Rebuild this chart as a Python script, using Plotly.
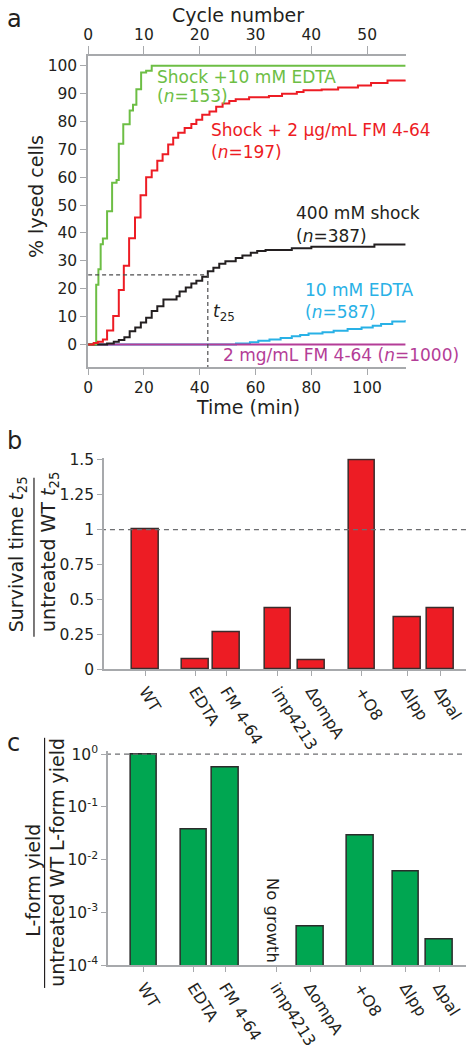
import math
import plotly.graph_objects as go

W, H = 466, 1050
def px(x):
    return x / W
def py(y):
    return 1 - y / H

FONT = "DejaVu Sans"
INK = "#231F20"
AXIS = "#A7A9AC"
GREEN = "#6DBE45"
RED = "#ED1C24"
BLACK = "#231F20"
CYAN = "#29B1E6"
MAGENTA = "#B43D97"
BAR_RED = "#ED1C24"
BAR_GREEN = "#00A651"

# ---------------- panel a data: cumulative % lysed cells vs time (min) ----------------
green_t = [0, 2.9, 3.7, 4.5, 5.3, 6.8, 8.6, 10.2, 11.0, 12.6, 14.9, 16.1, 17.3, 19.0, 20.8, 22.8, 113.8]
green_y = [0, 21.4, 27.0, 36.0, 38.0, 47.8, 58.0, 59.0, 72.0, 79.0, 84.0, 86.0, 91.6, 97.6, 98.2, 100.0, 100.0]

red_t = [0, 2.0, 3.5, 5.3, 6.8, 9.0, 11.0, 12.8, 14.7, 16.8, 18.8, 20.8, 22.8, 24.8, 26.7, 28.7,
         30.5, 32.3, 34.6, 37.0, 38.8, 40.9, 43.5, 45.9, 48.2, 50.6, 52.9, 57.7, 64.8, 69.5, 74.8,
         77.2, 83.7, 89.6, 96.7, 101.4, 107.3, 113.8]
red_y = [0, 0.5, 1.0, 1.8, 5.0, 10.2, 19.5, 28.2, 38.1, 45.6, 53.5, 60.0, 62.4, 65.9, 68.3, 71.8,
         74.2, 76.0, 77.7, 79.1, 80.6, 82.4, 83.6, 85.3, 86.5, 87.4, 88.0, 88.7, 89.2, 90.0, 90.6,
         91.2, 91.5, 92.2, 92.9, 93.8, 94.7, 95.0]

black_t = [0, 6.8, 9.2, 11.0, 13.0, 14.9, 16.9, 18.9, 20.8, 22.8, 24.8, 27.0, 31.7, 32.8, 35.0,
           37.0, 38.8, 40.9, 42.9, 44.9, 47.0, 49.2, 52.9, 55.3, 58.3, 60.6, 63.6, 73.0, 80.0,
           102.6, 113.8]
black_y = [0, 0.3, 1.0, 1.6, 2.6, 4.7, 6.1, 7.9, 9.6, 12.0, 13.7, 16.1, 17.3, 19.0, 20.4,
           21.9, 22.9, 24.3, 26.3, 27.5, 29.0, 29.9, 31.0, 31.9, 32.9, 33.5, 33.9, 34.5, 35.1,
           35.9, 35.9]

cyan_t = [0, 53, 58, 61, 65, 69, 73, 76, 79, 84, 88, 93, 98, 102, 105, 109, 113.8]
cyan_y = [0, 0.3, 0.8, 1.3, 1.8, 2.3, 2.9, 3.4, 3.9, 4.4, 4.9, 5.5, 6.1, 6.7, 7.3, 8.2, 8.8]

magenta_t = [0, 113.8]
magenta_y = [0, 0]

# ---------------- panels b / c data ----------------
categories = ["WT", "EDTA", "FM 4-64", "imp4213", "\u0394ompA", "+O8", "\u0394lpp", "\u0394pal"]
survival_ratio = [1.0, 0.072, 0.263, 0.437, 0.063, 1.495, 0.375, 0.437]
lform_yield = [1.0, 0.0376, 0.566, None, 5.3e-4, 0.029, 0.00585, 3.0e-4]

# layout: category slot positions (grouped spacing)
cat_pos = [41.7, 92.3, 124.0, 175.8, 210.0, 260.7, 306.7, 340.3]

fig = go.Figure()

# panel a curves
for t, y, c in [(cyan_t, cyan_y, CYAN), (magenta_t, magenta_y, MAGENTA),
                (black_t, black_y, BLACK), (green_t, green_y, GREEN), (red_t, red_y, RED)]:
    fig.add_trace(go.Scatter(x=t, y=y, mode="lines", xaxis="x", yaxis="y",
                             line=dict(color=c, width=2, shape="hv"),
                             showlegend=False, hoverinfo="skip"))

# t25 guide lines computed from the 400 mM shock curve
t25 = next(t for t, y in zip(black_t, black_y) if y >= 25)
ymin_a = -8.1
fig.add_trace(go.Scatter(x=[0, t25, t25], y=[25, 25, ymin_a], mode="lines", xaxis="x", yaxis="y",
                         line=dict(color="#4D4D4F", width=1.2, dash="4px,3px"),
                         showlegend=False, hoverinfo="skip"))
# dummy trace to realise top axis
fig.add_trace(go.Scatter(x=[0], y=[None], xaxis="x2", yaxis="y", showlegend=False, hoverinfo="skip"))

# panel b bars
fig.add_trace(go.Bar(x=cat_pos, y=survival_ratio, width=27, xaxis="x3", yaxis="y3",
                     marker=dict(color=BAR_RED, line=dict(color="#3A2C2C", width=1.5)),
                     showlegend=False, hoverinfo="skip"))
fig.add_trace(go.Scatter(x=[-3, 366], y=[1, 1], mode="lines", xaxis="x3", yaxis="y3",
                         line=dict(color="#6D6E71", width=1.2, dash="5px,4px"),
                         showlegend=False, hoverinfo="skip", cliponaxis=False))

# panel c bars
fig.add_trace(go.Bar(x=cat_pos, y=lform_yield, width=27, xaxis="x4", yaxis="y4",
                     marker=dict(color=BAR_GREEN, line=dict(color="#2B2B2B", width=1.5)),
                     showlegend=False, hoverinfo="skip"))
fig.add_trace(go.Scatter(x=[3.5, 367.4], y=[1, 1], mode="lines", xaxis="x4", yaxis="y4",
                         line=dict(color="#6D6E71", width=1.2, dash="5px,4px"),
                         showlegend=False, hoverinfo="skip", cliponaxis=False))

tickfont = dict(family=FONT, size=15.5, color=INK)
catfont = dict(family=FONT, size=16, color=INK)
common = dict(showline=True, linecolor=AXIS, linewidth=1.5, ticks="outside", ticklen=5,
              tickcolor=AXIS, tickwidth=1.2, showgrid=False, zeroline=False, tickfont=tickfont)
common_a = {**common, "ticklen": 6}

fig.update_layout(
    width=W, height=H, margin=dict(l=0, r=0, t=0, b=0),
    paper_bgcolor="white", plot_bgcolor="white", font=dict(family=FONT, color=INK),
    xaxis=dict(domain=[px(84), px(405)], range=[0, 113.8], anchor="y",
               tickvals=list(range(0, 101, 20)), **common_a),
    xaxis2=dict(overlaying="x", side="top", anchor="y", range=[0, 56.9],
                tickvals=list(range(0, 51, 10)), **{**common, "ticklen": 8}),
    yaxis=dict(domain=[py(367), py(50)], range=[ymin_a, 103.5], anchor="x",
               tickvals=list(range(0, 101, 10)), **common_a),
    xaxis3=dict(domain=[px(100), 1], range=[0, 366], anchor="y3", tickvals=cat_pos,
                ticktext=categories, tickangle=58,
                **{**common, "tickfont": catfont}),
    yaxis3=dict(domain=[py(675), py(460)], range=[0, 1.512], anchor="x3",
                tickvals=[0, 0.25, 0.5, 0.75, 1, 1.25, 1.5],
                ticktext=["0", "0.25", "0.5", "0.75", "1", "1.25", "1.5"], **common),
    xaxis4=dict(domain=[px(104), 1], range=[5.4, 367.4], anchor="y4", tickvals=cat_pos,
                ticktext=categories, tickangle=58,
                **{**common, "tickfont": catfont}),
    yaxis4=dict(domain=[py(976.7), py(758)], type="log", range=[-4, 0.069], anchor="x4",
                tickvals=[1e-4, 1e-3, 1e-2, 1e-1, 1],
                ticktext=["10<sup>-4</sup>", "10<sup>-3</sup>", "10<sup>-2</sup>",
                          "10<sup>-1</sup>", "10<sup>0</sup>"], **common),
    bargap=0,
)

ann = []
def A(text, x, y, color=INK, size=17, xref="x", yref="y", xanchor="left", yanchor="middle",
      angle=0, xshift=0):
    ann.append(dict(text=text, x=x, y=y, xref=xref, yref=yref, xanchor=xanchor, yanchor=yanchor,
                    showarrow=False, textangle=angle, xshift=xshift, borderpad=0,
                    font=dict(family=FONT, size=size, color=color)))

# panel a curve labels
A("Shock +10 mM EDTA", 24.4, 95.9, GREEN)
A("(<i>n</i>=153)", 24.3, 89.0, GREEN)
A("Shock + 2 \u00b5g/mL FM 4-64", 43.7, 77.1, RED)
A("(<i>n</i>=197)", 43.7, 69.0, RED)
A("400 mM shock", 74.2, 47.2, BLACK)
A("(<i>n</i>=387)", 74.2, 39.0, BLACK)
A("10 mM EDTA", 77.5, 19.5, CYAN)
A("(<i>n</i>=587)", 77.5, 11.6, CYAN)
A("2 mg/mL FM 4-64 (<i>n</i>=1000)", 48.0, -3.9, MAGENTA)
A("<i>t</i><sub>25</sub>", t25 + 1.6, 11.6, BLACK)

# axis titles (paper coords)
A("Cycle number", px(235.5), py(8), size=19, xref="paper", yref="paper", xanchor="center")
A("Time (min)", px(246), py(408), size=19, xref="paper", yref="paper", xanchor="center")
A("% lysed cells", px(32), py(193), size=19, xref="paper", yref="paper", xanchor="center", angle=-90)

A("Survival time <i>t</i><sub>25</sub>", px(13), py(558), size=19, xref="paper", yref="paper",
  xanchor="center", angle=-90)
A("untreated WT <i>t</i><sub>25</sub>", px(45), py(556), size=19, xref="paper", yref="paper",
  xanchor="center", angle=-90)
A("L-form yield", px(28), py(890), size=19, xref="paper", yref="paper", xanchor="center", angle=-90)
A("untreated WT L-form yield", px(53), py(872), size=19, xref="paper", yref="paper",
  xanchor="center", angle=-90)

A("No growth", cat_pos[3], 10 ** -3.15, size=16.5, xref="x4", yref="y4", xanchor="center",
  angle=90, xshift=-4)

# panel letters
A("a", px(1), py(12), size=24, xref="paper", yref="paper")
A("b", px(1), py(442), size=24, xref="paper", yref="paper")
A("c", px(1), py(750), size=24, xref="paper", yref="paper")

# annotation y on a log axis is given as log10
for a in ann:
    if a["yref"] == "y4":
        a["y"] = math.log10(a["y"])

fig.update_layout(annotations=ann)

shapes = [
    dict(type="line", xref="paper", yref="paper", x0=px(29.3), x1=px(29.3), y0=py(480), y1=py(642),
         line=dict(color=INK, width=1.2)),
    dict(type="line", xref="paper", yref="paper", x0=px(40), x1=px(40), y0=py(745), y1=py(1000),
         line=dict(color=INK, width=1.2)),
]
fig.update_layout(shapes=shapes)

fig.write_html("out.html", config={"displayModeBar": False})

# remove default page margins so the figure sits at the window origin
with open("out.html", "r", encoding="utf-8") as f:
    html = f.read()
html = html.replace("<head>", "<head><style>html,body{margin:0;padding:0;overflow:hidden;}</style>", 1)
with open("out.html", "w", encoding="utf-8") as f:
    f.write(html)
